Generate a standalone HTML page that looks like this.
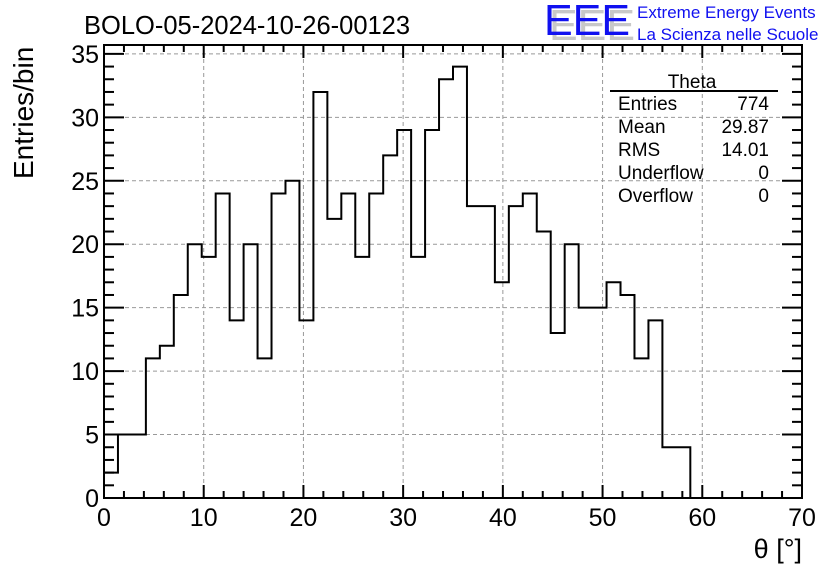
<!DOCTYPE html>
<html><head><meta charset="utf-8"><style>
body{margin:0;background:#fff}
svg text{font-family:"Liberation Sans",sans-serif}
</style></head><body>
<svg id="chart" width="836" height="572" viewBox="0 0 836 572" xmlns="http://www.w3.org/2000/svg">
<rect width="836" height="572" fill="#fff"/>
<g id="grid"></g>
<g id="axes"></g>
<path id="hist" fill="none" stroke="#000" stroke-width="2"/>
<text x="84" y="34" font-size="25.5">BOLO-05-2024-10-26-00123</text>
<text transform="translate(33,179) rotate(-90)" font-size="28">Entries/bin</text>
<text x="802" y="558" font-size="27" text-anchor="end">θ [°]</text>
<g>
<text x="549" y="40" font-size="44" fill="#c8c8c8" textLength="86" lengthAdjust="spacingAndGlyphs">EEE</text>
<text x="544" y="35" font-size="44" fill="#1010f0" textLength="86" lengthAdjust="spacingAndGlyphs">EEE</text>
<text x="637" y="18" font-size="17" fill="#1010f0">Extreme Energy Events</text>
<text x="637" y="40" font-size="17" fill="#1010f0">La Scienza nelle Scuole</text>
</g>
<g font-size="19">
<text x="692" y="88" text-anchor="middle">Theta</text>
<line x1="610" y1="91" x2="778" y2="91" stroke="#000" stroke-width="2"/>
<text x="618" y="110">Entries</text><text x="769" y="110" text-anchor="end">774</text>
<text x="618" y="133">Mean</text><text x="769" y="133" text-anchor="end">29.87</text>
<text x="618" y="156">RMS</text><text x="769" y="156" text-anchor="end">14.01</text>
<text x="618" y="179">Underflow</text><text x="769" y="179" text-anchor="end">0</text>
<text x="618" y="202">Overflow</text><text x="769" y="202" text-anchor="end">0</text>
</g>
</svg>
<script>
const counts=[2,5,5,11,12,16,20,19,24,14,20,11,24,25,14,32,22,24,19,24,27,29,19,29,33,34,23,23,17,23,24,21,13,20,15,15,17,16,11,14,4,4,0,0,0,0,0,0,0,0];
const xTicks=[0,10,20,30,40,50,60,70];
const yTicks=[0,5,10,15,20,25,30,35];
const binWidth=1.4;
const X0=104,X1=802,Y0=498,Y1=45,xMax=70,yMax=35.7;
const sx=v=>X0+(X1-X0)*v/xMax, sy=v=>Y0-(Y0-Y1)*v/yMax;
const NS="http://www.w3.org/2000/svg";
function mk(parent,tag,attrs){const e=document.createElementNS(NS,tag);for(const k in attrs)e.setAttribute(k,attrs[k]);document.getElementById(parent).appendChild(e);return e;}
for(const t of xTicks){if(t>0&&t<70){const l=mk('grid','line',{x1:sx(t),x2:sx(t),y1:Y1,y2:Y0,stroke:'#999','stroke-dasharray':'4,3'});

}}
for(const t of yTicks){if(t>0){const l=mk('grid','line',{x1:X0,x2:X1,y1:sy(t),y2:sy(t),stroke:'#999','stroke-dasharray':'4,3'});

}}
const fr=mk('axes','rect',{x:X0,y:Y1,width:X1-X0,height:Y0-Y1,fill:'none',stroke:'#000','stroke-width':2});


for(let v=0;v<=70;v+=2){const maj=v%10===0;const L=maj?13:7;
mk('axes','line',{x1:sx(v),x2:sx(v),y1:Y0,y2:Y0-L,stroke:'#000','stroke-width':2});
mk('axes','line',{x1:sx(v),x2:sx(v),y1:Y1,y2:Y1+L,stroke:'#000','stroke-width':2});}
for(let v=0;v<=35;v+=1){const maj=v%5===0;const L=maj?20:10;
mk('axes','line',{x1:X0,x2:X0+L,y1:sy(v),y2:sy(v),stroke:'#000','stroke-width':2});
mk('axes','line',{x1:X1,x2:X1-L,y1:sy(v),y2:sy(v),stroke:'#000','stroke-width':2});}
for(const t of xTicks){const e=mk('axes','text',{x:sx(t),y:Y0+28,'font-size':25,'text-anchor':'middle'});e.textContent=t;

}
for(const t of yTicks){const e=mk('axes','text',{x:X0-5,y:sy(t)+9,'font-size':25,'text-anchor':'end'});e.textContent=t;

}
let d='M'+sx(0)+','+sy(0);
counts.forEach((c,i)=>{d+=' L'+sx(i*binWidth)+','+sy(c)+' L'+sx((i+1)*binWidth)+','+sy(c);});
document.getElementById('hist').setAttribute('d',d);
</script>
</body></html>
